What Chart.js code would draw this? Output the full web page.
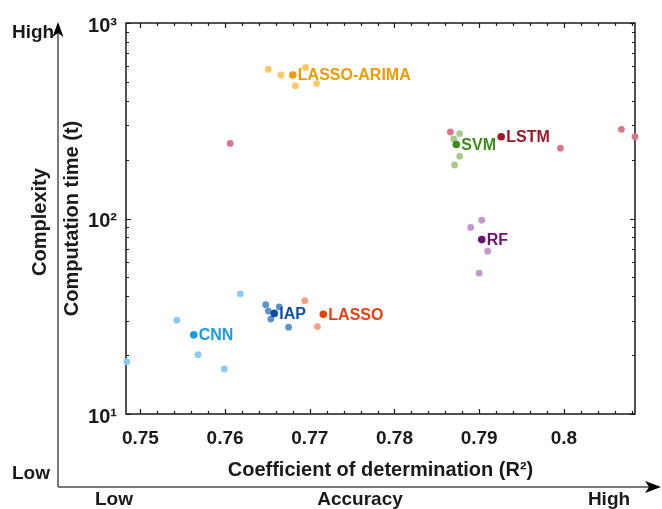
<!DOCTYPE html>
<html>
<head>
<meta charset="utf-8">
<script src="https://cdn.jsdelivr.net/npm/chart.js@4/dist/chart.umd.min.js"></script>
<style>
  html, body { margin: 0; padding: 0; background: #ffffff; }
  #wrap { width: 662px; height: 509px; position: relative; }
</style>
</head>
<body>
<div id="wrap"><canvas id="c" width="662" height="509"></canvas></div>
<script>
// ---------------- DATA ----------------
const models = ['LASSO-ARIMA', 'LSTM', 'SVM', 'RF', 'CNN', 'IAP', 'LASSO'];

// mean result of each model (labelled dot)
const meanR2   = [0.7680, 0.7926, 0.7873, 0.7903, 0.7563, 0.7658, 0.7716];
const meanTime = [542, 262, 239, 78, 25.4, 32.7, 32.4];

// individual runs (faded dots)
const runR2 = [
  [0.7651, 0.7666, 0.7683, 0.7695, 0.7708],
  [0.7606, 0.7866, 0.7996, 0.8068, 0.8084],
  [0.7877, 0.7870, 0.7877, 0.7871],
  [0.7903, 0.7890, 0.7910, 0.7900],
  [0.7618, 0.7543, 0.7568, 0.7599, 0.7484],
  [0.7648, 0.7651, 0.7664, 0.7654, 0.7675],
  [0.7694, 0.7709]
];
const runTime = [
  [580, 542, 477, 592, 490],
  [242, 277, 229, 286, 262],
  [272, 255, 208, 188],
  [98, 90, 68, 52.5],
  [41.2, 30.2, 20.1, 17.0, 18.5],
  [36.2, 33.6, 35.3, 30.6, 27.8],
  [38.0, 28.0]
];

const xTickValues = [0.75, 0.76, 0.77, 0.78, 0.79, 0.8];
const xTickLabels = ['0.75', '0.76', '0.77', '0.78', '0.79', '0.8'];
const yTickValues = [10, 100, 1000];
const yTickLabels = ['10\u00B9', '10\u00B2', '10\u00B3'];

// ---------------- STYLE ----------------
const meanColors = ['#F39A00', '#A31420', '#3C8C16', '#6C1277', '#1C9BE0', '#0C4FA3', '#E5400E'];
const runColors  = ['#FCC862', '#DA7888', '#A8CB8C', '#C497CD', '#8CCBF2', '#5D92CC', '#F5A07E'];
const FONT = '"Liberation Sans", Arial, sans-serif';

const datasets = [];
models.forEach((m, i) => {
  datasets.push({
    label: m + ' runs',
    data: runR2[i].map((x, k) => ({ x: x, y: runTime[i][k] })),
    backgroundColor: runColors[i],
    borderWidth: 0,
    pointRadius: 3.4,
    pointHoverRadius: 3.4,
    clip: false,
    order: 2
  });
});
models.forEach((m, i) => {
  datasets.push({
    label: m,
    data: [{ x: meanR2[i], y: meanTime[i] }],
    backgroundColor: meanColors[i],
    borderWidth: 0,
    pointRadius: 3.8,
    pointHoverRadius: 3.8,
    clip: false,
    order: 1
  });
});

// box + inward ticks
const framePlugin = {
  id: 'frame',
  beforeDatasetsDraw(chart) {
    const { ctx, chartArea: a, scales: { x, y } } = chart;
    ctx.save();
    ctx.strokeStyle = '#1a1a1a';
    ctx.lineWidth = 1.5;
    ctx.strokeRect(a.left, a.top, a.right - a.left, a.bottom - a.top);
    ctx.lineWidth = 1.2;
    ctx.beginPath();
    // x ticks
    for (let v = 0.75; v <= x.max + 1e-9; v += 0.002) {
      const px = Math.round(x.getPixelForValue(v)) + 0.5;
      const major = Math.abs(v * 100 - Math.round(v * 100)) < 1e-6;
      const L = major ? 5 : 3;
      ctx.moveTo(px, a.bottom); ctx.lineTo(px, a.bottom - L);
      ctx.moveTo(px, a.top); ctx.lineTo(px, a.top + L);
    }
    // y ticks (log)
    for (let d = 10; d <= 1000; d *= 10) {
      for (let k = 1; k <= 9; k++) {
        const v = d * k;
        if (v > 1000 + 1e-9) break;
        const py = Math.round(y.getPixelForValue(v)) + 0.5;
        const L = k === 1 ? 5 : 3;
        ctx.moveTo(a.left, py); ctx.lineTo(a.left + L, py);
        ctx.moveTo(a.right, py); ctx.lineTo(a.right - L, py);
      }
    }
    ctx.stroke();
    ctx.restore();
  },
  afterDatasetsDraw(chart) {
    const { ctx, scales: { x, y } } = chart;
    ctx.save();
    ctx.font = 'bold 16px ' + FONT;
    ctx.textBaseline = 'middle';
    ctx.textAlign = 'left';
    models.forEach((m, i) => {
      ctx.fillStyle = meanColors[i];
      ctx.fillText(m, x.getPixelForValue(meanR2[i]) + 5, y.getPixelForValue(meanTime[i]) + 1);
    });
    ctx.restore();
  },
  afterDraw(chart) {
    const { ctx } = chart;
    ctx.save();
    // outer qualitative axes
    ctx.strokeStyle = '#7a7a7a';
    ctx.lineWidth = 2;
    ctx.beginPath();
    ctx.moveTo(58, 487); ctx.lineTo(58, 32);
    ctx.moveTo(58, 487); ctx.lineTo(650, 487);
    ctx.stroke();
    ctx.fillStyle = '#000';
    ctx.beginPath();
    ctx.moveTo(58, 22); ctx.lineTo(63.5, 37); ctx.lineTo(58, 33); ctx.lineTo(52.5, 37); ctx.closePath();
    ctx.fill();
    ctx.beginPath();
    ctx.moveTo(661, 487); ctx.lineTo(645, 481); ctx.lineTo(649, 487); ctx.lineTo(645, 493); ctx.closePath();
    ctx.fill();

    ctx.fillStyle = '#1a1a1a';
    ctx.font = 'bold 19px ' + FONT;
    ctx.textBaseline = 'middle';
    ctx.textAlign = 'left';
    ctx.fillText('High', 12, 33);
    ctx.fillText('Low', 12, 474);
    ctx.textAlign = 'center';
    ctx.fillText('Low', 114, 500);
    ctx.fillText('Accuracy', 360, 500);
    ctx.fillText('High', 609, 500);
    ctx.save();
    ctx.translate(40, 222);
    ctx.rotate(-Math.PI / 2);
    ctx.font = 'bold 20px ' + FONT;
    ctx.fillText('Complexity', 0, 0);
    ctx.restore();
    ctx.restore();
  }
};

new Chart(document.getElementById('c'), {
  type: 'scatter',
  data: { datasets: datasets },
  options: {
    responsive: false,
    animation: false,
    devicePixelRatio: 1,
    layout: { padding: { top: 23, right: 27, left: 0, bottom: 0 } },
    plugins: { legend: { display: false }, tooltip: { enabled: false } },
    scales: {
      x: {
        type: 'linear',
        min: 0.7483,
        max: 0.8084,
        grid: { display: false },
        border: { display: false },
        afterBuildTicks: s => { s.ticks = xTickValues.map(v => ({ value: v })); },
        afterFit: s => { s.height = 95; },
        ticks: {
          padding: 5,
          color: '#1a1a1a',
          font: { family: FONT, size: 19, weight: 'bold' },
          callback: (v) => { const i = xTickValues.findIndex(t => Math.abs(t - v) < 1e-9); return i >= 0 ? xTickLabels[i] : ''; }
        },
        title: {
          display: true,
          text: 'Coefficient of determination (R\u00B2)',
          color: '#1a1a1a',
          font: { family: FONT, size: 20, weight: 'bold' },
          padding: { top: 0, bottom: 27 }
        }
      },
      y: {
        type: 'logarithmic',
        min: 10,
        max: 1000,
        grid: { display: false },
        border: { display: false },
        afterBuildTicks: s => { s.ticks = yTickValues.map(v => ({ value: v })); },
        afterFit: s => { s.width = 126; },
        ticks: {
          padding: 1,
          labelOffset: 3,
          color: '#1a1a1a',
          font: { family: FONT, size: 20, weight: 'bold' },
          callback: (v) => { const i = yTickValues.indexOf(v); return i >= 0 ? yTickLabels[i] : ''; }
        },
        title: {
          display: true,
          text: 'Computation time (t)',
          color: '#1a1a1a',
          font: { family: FONT, size: 20, weight: 'bold' },
          padding: { top: 60, bottom: 0 }
        }
      }
    }
  },
  plugins: [framePlugin]
});
</script>
</body>
</html>
